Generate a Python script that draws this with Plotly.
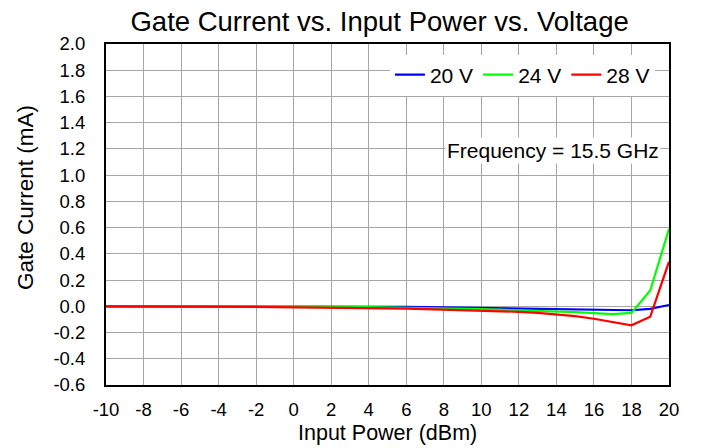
import plotly.graph_objects as go

input_power = list(range(-10, 21))

# gate current (mA) per drain voltage
i_20v = [0.0, 0.0, 0.0, 0.0, 0.0, 0.0, 0.0, 0.0, 0.0, 0.0, 0.0,
         0.0, -0.001, -0.002, -0.003, -0.004, -0.005, -0.006, -0.008, -0.01, -0.012,
         -0.014, -0.016, -0.018, -0.02, -0.023, -0.026, -0.028, -0.03, -0.02, 0.01]
i_24v = [0.0, 0.0, 0.0, 0.0, 0.0, 0.0, -0.001, -0.001, -0.002, -0.002, -0.003,
         -0.003, -0.004, -0.005, -0.006, -0.008, -0.01, -0.012, -0.015, -0.018, -0.022,
         -0.026, -0.03, -0.035, -0.04, -0.045, -0.052, -0.06, -0.05, 0.12, 0.59]
i_28v = [0.0, 0.0, -0.001, -0.001, -0.002, -0.002, -0.003, -0.004, -0.005, -0.006, -0.007,
         -0.008, -0.009, -0.011, -0.013, -0.015, -0.018, -0.021, -0.025, -0.028, -0.032,
         -0.036, -0.042, -0.05, -0.06, -0.075, -0.095, -0.12, -0.145, -0.08, 0.34]

x_ticks = list(range(-10, 21, 2))
y_ticks = [round(-0.6 + 0.2 * i, 1) for i in range(14)]

series = [("20 V", i_20v, "#0000FF"), ("24 V", i_24v, "#00FF00"), ("28 V", i_28v, "#FF0000")]

fig = go.Figure()
for name, vals, color in series:
    fig.add_trace(go.Scatter(
        x=input_power, y=vals, mode="lines", name=name,
        line=dict(color=color, width=2.2)
    ))

axis_style = dict(
    showgrid=True, gridcolor="#a6a6a6", gridwidth=1,
    showline=True, linecolor="black", linewidth=2, mirror=True,
    ticks="", zeroline=False,
    tickfont=dict(size=18.5, color="black"),
)

# hyphen-minus labels instead of plotly's unicode minus
fig.update_xaxes(range=[-10, 20], tickvals=x_ticks, ticktext=[str(v) for v in x_ticks],
                 ticklabelstandoff=7, **axis_style)
fig.update_yaxes(range=[-0.6, 2.0], tickvals=y_ticks, ticktext=[f"{v:.1f}" for v in y_ticks],
                 ticklabelstandoff=15, **axis_style)

# axis titles as annotations to place them where the reference has them
fig.add_annotation(
    x=0.5, y=-0.1408, xref="paper", yref="paper", xanchor="center", yanchor="middle",
    text="Input Power (dBm)", showarrow=False, font=dict(size=21.5, color="black")
)
fig.add_annotation(
    x=-0.1439, y=0.551, xref="paper", yref="paper", xanchor="center", yanchor="middle",
    text="Gate Current (mA)", textangle=-90, showarrow=False, font=dict(size=22.5, color="black")
)

fig.add_annotation(
    x=0.985, y=1.19, xref="paper", yref="y", xanchor="right", yanchor="middle",
    text="Frequency = 15.5 GHz", showarrow=False, bgcolor="white",
    font=dict(size=21, color="black")
)

fig.update_layout(
    width=694, height=440,
    paper_bgcolor="white", plot_bgcolor="white",
    font=dict(family="Liberation Sans, Arial, sans-serif", color="black"),
    title=dict(text="Gate Current vs. Input Power vs. Voltage", xref="paper", x=0.486,
               xanchor="center", yref="container", y=0.9909, yanchor="top",
               font=dict(size=27.5, color="black")),
    margin=dict(l=98, r=33, t=36, b=63),
    legend=dict(orientation="h", x=0.975, xanchor="right", y=0.909, yanchor="middle",
                bgcolor="white", font=dict(size=21, color="black"),
                itemwidth=30, traceorder="normal"),
    showlegend=True,
)

fig.write_html("out.html")
